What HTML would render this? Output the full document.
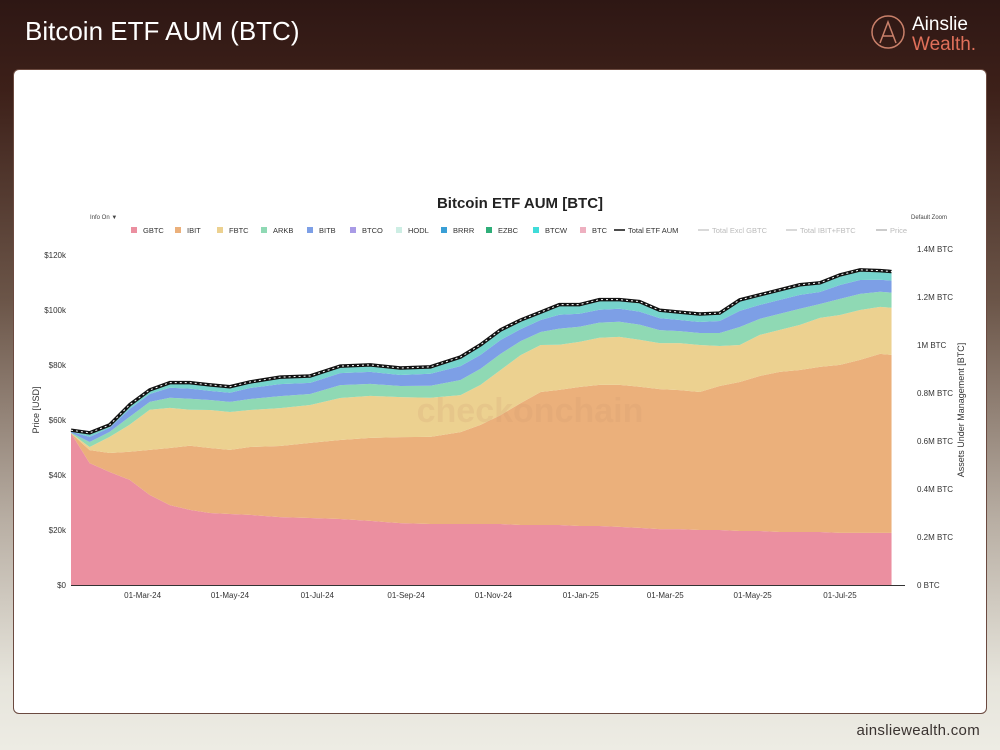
<!DOCTYPE html>
<html><head><meta charset="utf-8"><style>
body{margin:0;width:1000px;height:750px;overflow:hidden;font-family:"Liberation Sans",sans-serif;background:linear-gradient(#2e1714 0px,#3d2019 90px,#6b5548 300px,#b8aea3 520px,#e6e4db 680px,#edece4 750px);position:relative}
#title{position:absolute;left:25px;top:16px;color:#fff;font-size:26px}
#card{position:absolute;left:13px;top:69px;width:972px;height:643px;background:#fff;border:1px solid #6b4a40;border-radius:6px}
#footer{position:absolute;right:20px;top:722px;font-size:15px;color:#3a3330;letter-spacing:0.3px}
</style></head><body>
<div id="title">Bitcoin ETF AUM (BTC)</div>
<svg style="position:absolute;left:868px;top:10px" width="125" height="45">
<circle cx="20" cy="22" r="16" fill="none" stroke="#c9806a" stroke-width="1.5"/>
<path d="M12 33 L20 12 L28 33 M15 26 H25" fill="none" stroke="#c9806a" stroke-width="1.5"/>
<text x="44" y="20" fill="#fff" font-size="19" font-family="Liberation Sans">Ainslie</text>
<text x="44" y="40" fill="#e0705a" font-size="19" font-family="Liberation Sans">Wealth.</text>
</svg>
<div id="card"></div>
<div id="footer">ainsliewealth.com</div>
<svg id="chart" width="1000" height="750" style="position:absolute;left:0;top:0" font-family="Liberation Sans"></svg>
<script>
const days=[0,13,27,41,55,69,83,97,111,125,146,167,188,209,230,251,272,286,300,314,328,341,355,369,383,397,411,425,439,453,467,481,495,509,523,537,551,565,573];
const gbtc=[633,508,471,438,375,333,313,300,296,292,283,279,275,267,258,254,254,254,254,250,250,250,246,246,242,238,233,233,229,229,225,225,221,221,221,217,217,217,217];
const ibit=[0,54,79,117,188,238,267,271,267,283,296,313,329,346,358,363,383,413,454,508,554,563,579,588,592,588,583,579,575,600,621,646,667,675,688,700,721,746,742];
const fbtc=[0,13,67,113,167,167,150,158,158,154,158,158,175,175,167,163,154,167,188,200,196,188,188,196,200,196,192,196,196,167,154,171,175,188,204,208,208,196,196];
const arkb=[2,21,21,33,33,42,46,42,42,46,50,46,54,50,46,50,63,67,67,58,54,67,63,63,63,63,54,50,50,54,75,67,67,67,58,67,67,63,63];
const bitb=[4,21,17,33,33,42,42,38,38,46,50,46,50,50,46,50,58,58,58,50,50,58,54,54,54,54,50,46,46,50,67,58,58,58,50,58,58,50,50];
const others=[6,17,12,17,17,21,25,25,25,25,29,29,29,29,29,29,38,42,42,38,33,42,38,42,38,42,33,33,33,33,46,42,42,42,38,42,42,38,38];
const btcTicks=[0,200,400,600,800,1000,1200,1400];
const btcTickLabels=["0 BTC","0.2M BTC","0.4M BTC","0.6M BTC","0.8M BTC","1M BTC","1.2M BTC","1.4M BTC"];
const usdTicks=[0,20,40,60,80,100,120];
const usdTickLabels=["$0","$20k","$40k","$60k","$80k","$100k","$120k"];
const dateTickDays=[50,111,172,234,295,356,415,476,537];
const dateTickLabels=["01-Mar-24","01-May-24","01-Jul-24","01-Sep-24","01-Nov-24","01-Jan-25","01-Mar-25","01-May-25","01-Jul-25"];
const NS="http://www.w3.org/2000/svg",svg=document.getElementById('chart');
const X=d=>71+d*1.432, Y=v=>585-v*0.24, YU=v=>585-v*2.75;
function el(t,a,p){const e=document.createElementNS(NS,t);for(const k in a)e.setAttribute(k,a[k]);(p||svg).appendChild(e);return e;}
const series=[["gbtc",gbtc,"#eb8fa0"],["ibit",ibit,"#ebb07b"],["fbtc",fbtc,"#ecd190"],["arkb",arkb,"#8fd9b4"],["bitb",bitb,"#7d9fe6"],["others",others,"#76d3cc"]];
let base=days.map(()=>0);
series.forEach(([n,vals,c])=>{
  const top=base.map((b,i)=>b+vals[i]);
  let d="M"+days.map((x,i)=>X(x)+","+Y(top[i])).join("L");
  for(let i=days.length-1;i>=0;i--)d+="L"+X(days[i])+","+Y(base[i]);
  const p=el('path',{d:d+"Z",fill:c});
  
  
  base=top;
});
const tot="M"+days.map((x,i)=>X(x)+","+Y(base[i])).join("L");
const tl=el('path',{d:tot,fill:"none",stroke:"#111",'stroke-width':3.5});


el('path',{d:tot,fill:"none",stroke:"#fff",'stroke-width':1,'stroke-dasharray':"2 3"});
const wm=el('text',{x:530,y:422,'text-anchor':'middle','font-size':34,'font-weight':'bold',fill:'rgba(205,150,110,0.18)'});
wm.textContent="checkonchain";


el('line',{x1:71,x2:905,y1:585.5,y2:585.5,stroke:"#333",'stroke-width':1});
btcTicks.forEach((v,i)=>{const t=el('text',{x:917,y:Y(v)+3,'font-size':8,fill:'#333'});t.textContent=btcTickLabels[i];

});
usdTicks.forEach((v,i)=>{const t=el('text',{x:66,y:YU(v)+3,'font-size':8,fill:'#333','text-anchor':'end'});t.textContent=usdTickLabels[i];

});
dateTickDays.forEach((v,i)=>{const t=el('text',{x:X(v),y:598,'font-size':8,fill:'#333','text-anchor':'middle'});t.textContent=dateTickLabels[i];

});
const yl=el('text',{x:0,y:0,'font-size':9,fill:'#333','text-anchor':'middle',transform:'translate(39,410) rotate(-90)'});yl.textContent="Price [USD]";


const yr=el('text',{x:0,y:0,'font-size':9,fill:'#333','text-anchor':'middle',transform:'translate(964,410) rotate(-90)'});yr.textContent="Assets Under Management [BTC]";


const ct=el('text',{x:520,y:208,'font-size':15,'font-weight':'bold',fill:'#222','text-anchor':'middle'});ct.textContent="Bitcoin ETF AUM [BTC]";


const io=el('text',{x:90,y:219,'font-size':6,fill:'#444'});io.textContent="Info On  ▼";


const dz=el('text',{x:947,y:219,'font-size':6,fill:'#444','text-anchor':'end'});dz.textContent="Default Zoom";


const legend=[["GBTC","#eb8fa0",131,0],["IBIT","#ebb07b",175,0],["FBTC","#ecd190",217,0],["ARKB","#8fd9b4",261,0],["BITB","#7d9fe6",307,0],["BTCO","#a99be6",350,0],["HODL","#cdeee4",396,0],["BRRR","#3a9fd6",441,0],["EZBC","#2fae79",486,0],["BTCW","#40dcd9",533,0],["BTC","#eeb0c0",580,0],["Total ETF AUM","#111",614,1],["Total Excl GBTC","#ccc",698,1],["Total IBIT+FBTC","#ccc",786,1],["Price","#bbb",876,1]];
legend.forEach(([n,c,x,ln])=>{
  const g=el('g',{});
  
  
  if(ln)el('line',{x1:x,x2:x+11,y1:230,y2:230,stroke:c,'stroke-width':1.5},g);
  else el('rect',{x:x,y:227,width:6,height:6,fill:c},g);
  const t=el('text',{x:x+(ln?14:12),y:233,'font-size':7.5,fill:ln&&c!="#111"?'#bbb':'#333'},g);t.textContent=n;
});
</script>
</body></html>
